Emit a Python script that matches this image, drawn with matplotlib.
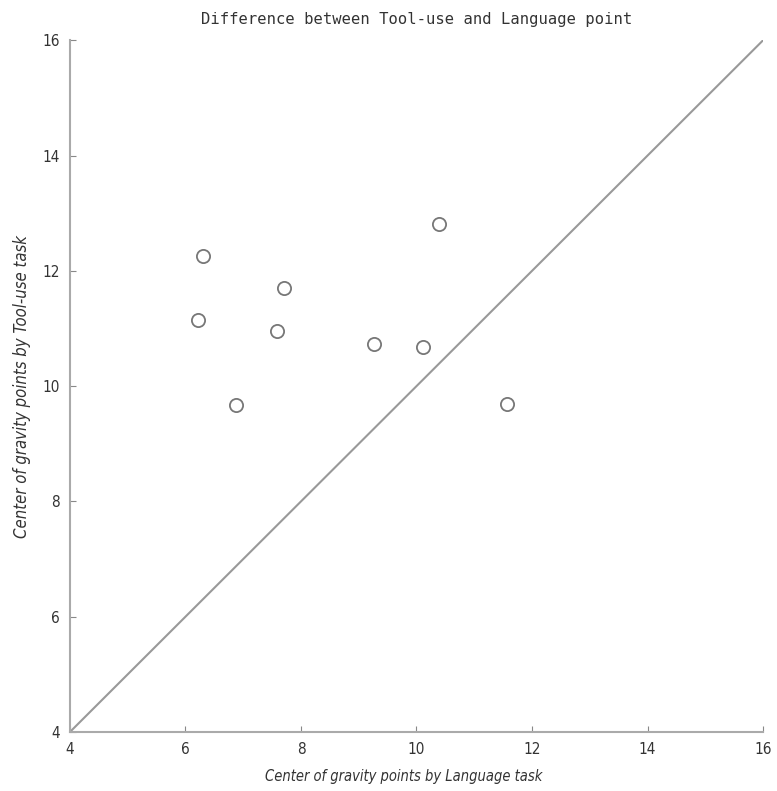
import matplotlib
matplotlib.use("Agg")
import matplotlib.pyplot as plt

# center-of-gravity points per subject
language_x = [6.31, 10.39, 7.71, 6.22, 7.58, 9.26, 10.11, 6.87, 11.57]
tooluse_y = [12.26, 12.81, 11.71, 11.14, 10.96, 10.74, 10.68, 9.67, 9.69]
ticks = [4, 6, 8, 10, 12, 14, 16]

narrow = ['DejaVu Sans Condensed', 'Liberation Sans Narrow', 'DejaVu Sans']

fig = plt.figure(figsize=(7.77, 7.91), dpi=100)
ax = fig.add_axes([0.090, 0.0746, 0.892, 0.8744])

ax.plot([4, 16], [4, 16], color='#999999', linewidth=1.5)
ax.plot(language_x, tooluse_y, linestyle='none', marker='o', markersize=9.5,
        markerfacecolor='white', markeredgecolor='#777777', markeredgewidth=1.3)

ax.set_xlim(4, 16)
ax.set_ylim(4, 16)
ax.set_xticks(ticks)
ax.set_yticks(ticks)
for s in ['top', 'right']:
    ax.spines[s].set_visible(False)
for s in ['left', 'bottom']:
    ax.spines[s].set_color('#aaaaaa')
    ax.spines[s].set_linewidth(1.5)
ax.tick_params(direction='in', length=4, color='#888888', labelsize=11,
               labelcolor='#333333', pad=7)
for lab in ax.get_xticklabels() + ax.get_yticklabels():
    lab.set_family(narrow)
    lab.set_stretch('condensed')

ax.set_title('Difference between Tool-use and Language point', family='DejaVu Sans Mono',
             fontsize=11.2, color='#333333', pad=12)
ax.set_xlabel('Center of gravity points by Language task', fontsize=10.5, style='italic',
              family=narrow, stretch='condensed', color='#333333')
ax.xaxis.set_label_coords(0.481, -0.053)
ax.set_ylabel('Center of gravity points by Tool-use task', fontsize=12, style='italic',
              family=narrow, stretch='condensed', color='#333333')
ax.yaxis.set_label_coords(-0.056, 0.5)

fig.savefig('out.png', dpi=100)
